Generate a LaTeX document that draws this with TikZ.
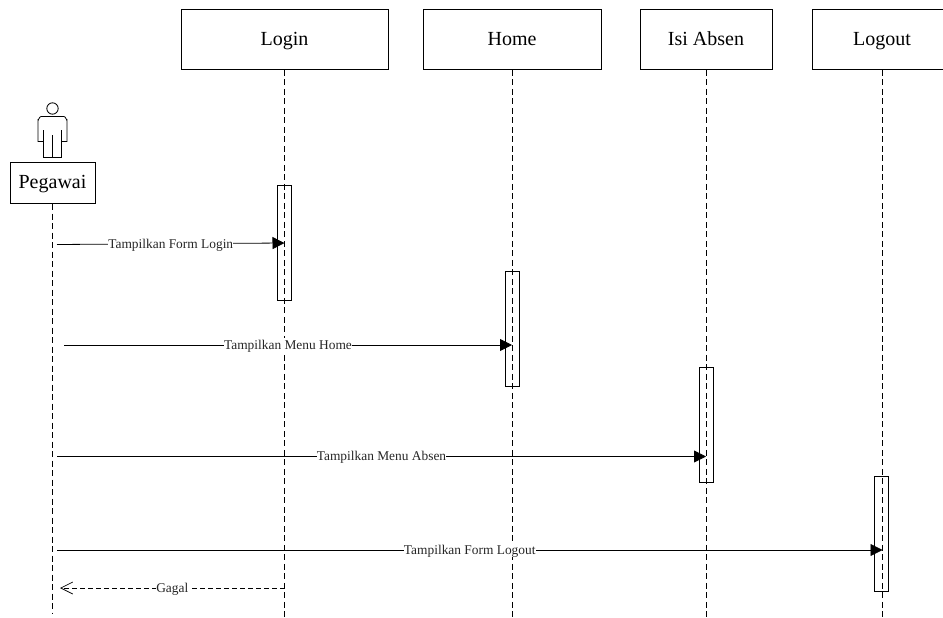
\documentclass[tikz,border=0pt]{standalone}
\usepackage{fontspec}
\setmainfont{Liberation Serif}
\usetikzlibrary{arrows.meta}
\tikzset{
  x=1pt,y=-1pt,
  head/.style={draw=black,line width=0.9pt,fill=white,inner sep=0pt,text height=15.5pt,text depth=4pt,font=\fontsize{20}{22}\selectfont},
  life/.style={draw=black,line width=0.8pt,dash pattern=on 6pt off 3.5pt},
  act/.style={draw=black,line width=0.9pt,fill=none,minimum width=14pt,inner sep=0pt},
  msg/.style={draw=black,line width=0.8pt,-{Triangle[length=12pt,width=12pt]}},
  ret/.style={draw=black,line width=0.7pt,dash pattern=on 5pt off 3pt,-{Straight Barb[length=12pt,width=12pt,line width=0.7pt]}},
  lab/.style={fill=white,inner sep=0.3pt,text height=11pt,text depth=2.5pt,font=\fontsize{13.4}{15}\selectfont,text=black!85}
}
\begin{document}
\begin{tikzpicture}
\useasboundingbox (0,0) rectangle (943,618);
\path[clip] (0,0) rectangle (943,618);
% lifeline ends
\coordinate (pe) at (52.5,613);
\coordinate (le) at (284.5,618);
\coordinate (he) at (512,618);
\coordinate (ie) at (706,618);
\coordinate (oe) at (882,618);
% header boxes
\node[head,minimum width=207pt,minimum height=60pt] (login) at (284.5,39.5) {Login};
\node[head,minimum width=178pt,minimum height=60pt] (home) at (512,39.5) {Home};
\node[head,minimum width=132pt,minimum height=60pt] (isi) at (706,39.5) {Isi Absen};
\node[head,minimum width=140pt,minimum height=60pt] (logout) at (882,39.5) {Logout};
\node[head,line width=1pt,minimum width=85pt,minimum height=41pt] (peg) at (52.5,183) {Pegawai};
% lifelines
\draw[life] (login.south) -- (le);
\draw[life] (home.south) -- (he);
\draw[life] (isi.south) -- (ie);
\draw[life] (logout.south) -- (oe);
\draw[life] (peg.south) -- (pe);
% actor
\begin{scope}[draw=black,line width=0.8pt]
\draw (52.5,108.5) circle (5.7pt);
\draw (43,141.5) -- (38,141.5) -- (38,120) to[out=-90,in=180] (41,116.5) -- (64,116.5) to[out=0,in=-90] (67,120) -- (67,141.5) -- (62,141.5);
\draw (43.5,130) -- (43.5,157.5) -- (61.5,157.5) -- (61.5,130);
\draw (52.5,135) -- (52.5,157.5);
\end{scope}
% activations
\node[act,minimum height=115pt] (a1) at (284.5,242.5) {};
\node[act,minimum height=115pt] (a2) at (512,329) {};
\node[act,minimum height=115pt] (a3) at (706,425) {};
\node[act,minimum height=115pt] (a4) at (881.5,534) {};
% message anchors
\coordinate (m1s) at (57,244.5);
\coordinate (m1e) at (284.5,243);
\coordinate (m2s) at (64,345);
\coordinate (m2e) at (512,345);
\coordinate (m3s) at (57,456.5);
\coordinate (m3e) at (706,456.5);
\coordinate (m4s) at (57,550);
\coordinate (m4e) at (882.5,550);
\coordinate (m5s) at (284.5,588);
\coordinate (m5e) at (60,588);
\draw[msg] (m1s) -- node[lab,pos=0.5] {Tampilkan Form Login} (m1e);
\draw[msg] (m2s) -- node[lab,pos=0.5] {Tampilkan Menu Home} (m2e);
\draw[msg] (m3s) -- node[lab,pos=0.5] {Tampilkan Menu Absen} (m3e);
\draw[msg] (m4s) -- node[lab,pos=0.5] {Tampilkan Form Logout} (m4e);
\draw[ret] (m5s) -- node[lab,pos=0.5] {Gagal} (m5e);
\end{tikzpicture}
\end{document}
